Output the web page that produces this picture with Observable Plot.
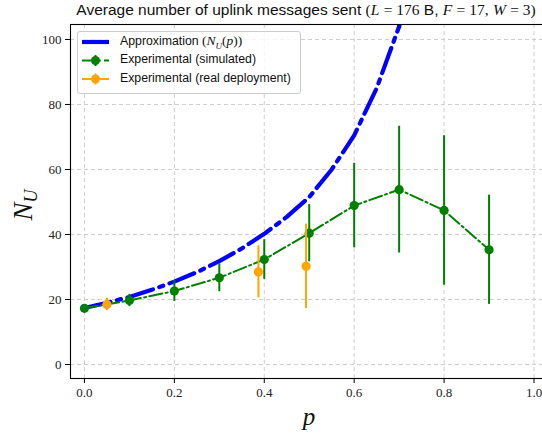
<!DOCTYPE html>
<html>
<head>
<meta charset="utf-8">
<script src="https://cdn.jsdelivr.net/npm/d3@7"></script>
<script src="https://cdn.jsdelivr.net/npm/@observablehq/plot@0.6"></script>
<style>
  html, body { margin: 0; padding: 0; background: #fff; overflow: hidden; }
  #wrap { position: relative; width: 542px; height: 434px; }
  #title { position: absolute; left: 70px; width: 472px; top: 1px; text-align: center;
    font-family: "Liberation Sans", sans-serif; font-size: 15.5px; color: #111; white-space: nowrap; }
  .m { font-family: "Liberation Serif", serif; }
  .mi { font-family: "Liberation Serif", serif; font-style: italic; }
  #legend { position: absolute; left: 77px; top: 31px; width: 222px; height: 61px;
    border: 1px solid #cccccc; border-radius: 3px; background: rgba(255,255,255,0.8);
    font-family: "Liberation Sans", sans-serif; font-size: 12.3px; color: #111; }
  #legend svg { position: absolute; left: 0; top: 0; }
  .lt { position: absolute; left: 42px; white-space: nowrap; }
  #legend .m, #legend .mi { font-size: 13.5px; }
</style>
</head>
<body>
<div id="wrap">
  <div id="chart"></div>
  <div id="title">Average number of uplink messages sent <span class="m">(</span><span class="mi">L</span> <span class="m">= 176</span> B, <span class="mi">F</span> <span class="m">= 17,</span> <span class="mi">W</span> <span class="m">= 3)</span></div>
  <div id="legend">
    <svg width="60" height="62">
      <line x1="4" x2="31" y1="10" y2="10" stroke="blue" stroke-width="4.2"/>
      <line x1="4" x2="31" y1="28.5" y2="28.5" stroke="green" stroke-width="2.1" stroke-dasharray="13.3,3.3,2.1,3.3"/>
      <line x1="17.5" x2="17.5" y1="23" y2="34" stroke="green" stroke-width="2"/>
      <circle cx="17.5" cy="28.5" r="4.5" fill="green"/>
      <line x1="4" x2="31" y1="47" y2="47" stroke="orange" stroke-width="2"/>
      <line x1="17.5" x2="17.5" y1="41.5" y2="52.5" stroke="orange" stroke-width="2"/>
      <circle cx="17.5" cy="47" r="4.5" fill="orange"/>
    </svg>
    <div class="lt" style="top:1px">Approximation <span class="m">(</span><span class="mi">N<sub style="font-size:9px">U</sub></span><span class="m">(</span><span class="mi">p</span><span class="m">))</span></div>
    <div class="lt" style="top:20px">Experimental (simulated)</div>
    <div class="lt" style="top:39px">Experimental (real deployment)</div>
  </div>
</div>
<script>
// Approximation curve N_U(p)
const pApprox = [0, 0.05, 0.1, 0.15, 0.2, 0.25, 0.3, 0.35, 0.4, 0.45, 0.5, 0.55, 0.6, 0.65, 0.7, 0.75];
const nApprox = [17.4, 19.0, 20.8, 23.0, 25.5, 28.4, 31.8, 35.7, 40.2, 45.4, 51.5, 60.0, 70.5, 85.0, 104.0, 130.0];

// Experimental (simulated)
const pSim = [0, 0.1, 0.2, 0.3, 0.4, 0.5, 0.6, 0.7, 0.8, 0.9];
const nSim = [17.3, 19.7, 22.6, 26.7, 32.3, 40.4, 48.9, 53.8, 47.4, 35.3];
const eSim = [0.3, 1.9, 3.2, 4.3, 6.1, 8.8, 13.0, 19.5, 23.0, 16.8];

// Experimental (real deployment)
const pReal = [0.05, 0.387, 0.493];
const nReal = [18.5, 28.5, 30.2];
const eReal = [1.9, 8.0, 13.0];

const xTicks = [0, 0.2, 0.4, 0.6, 0.8, 1.0];
const yTicks = [0, 20, 40, 60, 80, 100];

const approx = pApprox.map((p, i) => ({p, n: nApprox[i]}));
const sim = pSim.map((p, i) => ({p, n: nSim[i], e: eSim[i]}));
const real = pReal.map((p, i) => ({p, n: nReal[i], e: eReal[i]}));

const chart = Plot.plot({
  width: 542,
  height: 434,
  marginLeft: 70,
  marginRight: -5,
  marginTop: 24,
  marginBottom: 56,
  x: {domain: [-0.031, 1.03]},
  y: {domain: [-4.3, 104.6]},
  style: {fontFamily: "Liberation Serif, serif", fontSize: "13px", color: "#222", background: "white", overflow: "visible"},
  marks: [
    Plot.gridX(xTicks, {stroke: "#c8c8c8", strokeOpacity: 1, strokeWidth: 0.9, strokeDasharray: "4,3"}),
    Plot.gridY(yTicks, {stroke: "#c8c8c8", strokeOpacity: 1, strokeWidth: 0.9, strokeDasharray: "4,3"}),
    Plot.line(approx, {x: "p", y: "n", stroke: "blue", strokeWidth: 4.2, strokeDasharray: "26.7,6.7,4.2,6.7", clip: true}),
    Plot.line(sim, {x: "p", y: "n", stroke: "green", strokeWidth: 2, strokeDasharray: "13.3,3.3,2.1,3.3"}),
    Plot.ruleX(sim, {x: "p", y1: d => d.n - d.e, y2: d => d.n + d.e, stroke: "green", strokeWidth: 2}),
    Plot.dot(sim, {x: "p", y: "n", r: 4.6, fill: "green"}),
    Plot.ruleX(real, {x: "p", y1: d => d.n - d.e, y2: d => d.n + d.e, stroke: "orange", strokeWidth: 2}),
    Plot.dot(real, {x: "p", y: "n", r: 4.6, fill: "orange"}),
    Plot.frame({stroke: "black", strokeWidth: 1.1}),
    Plot.axisX(xTicks, {tickSize: 5, tickPadding: 4, tickFormat: d3.format(".1f"), label: null, stroke: "black"}),
    Plot.axisY(yTicks, {tickSize: 5, tickPadding: 4, label: null, stroke: "black"}),
    Plot.text(["p"], {frameAnchor: "bottom", dy: 46, text: d => d, fontSize: 25, fontStyle: "italic", fill: "#111"}),
  ]
});
document.getElementById("chart").appendChild(chart);

// y-axis label N_U (rotated)
const svg = d3.select(chart);
const yl = svg.append("text")
  .attr("transform", "translate(32,205) rotate(-90)")
  .attr("text-anchor", "middle")
  .attr("font-family", "Liberation Serif, serif")
  .attr("fill", "#111");
yl.append("tspan").attr("font-size", 27).attr("font-style", "italic").text("N");
yl.append("tspan").attr("font-size", 18).attr("font-style", "italic").attr("dy", 5).text("U");
</script>
</body>
</html>
